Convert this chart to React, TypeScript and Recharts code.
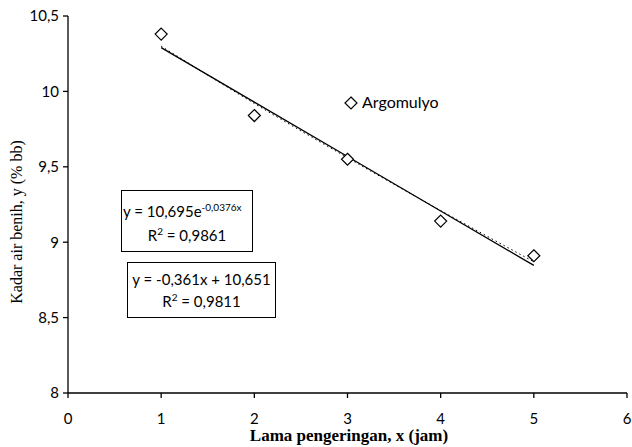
import React from "react";
import { ComposedChart, Scatter, Line, XAxis, YAxis } from "recharts";

const xValues = [1, 2, 3, 4, 5];
const observed = [10.38, 9.84, 9.55, 9.14, 8.91];
const linearTrend = [10.29, 9.929, 9.568, 9.207, 8.846];
const expTrend = [10.3, 9.92, 9.56, 9.21, 8.87];
const xTicks = [0, 1, 2, 3, 4, 5, 6];
const yTicks = [8, 8.5, 9, 9.5, 10, 10.5];

const pointData = xValues.map((x, i) => ({ x, y: observed[i] }));
const linData = xValues.map((x, i) => ({ x, y: linearTrend[i] }));
const expData = xValues.map((x, i) => ({ x, y: expTrend[i] }));

const SANS = "Lato, 'Open Sans', sans-serif";
const SERIF = "'Liberation Serif', 'DejaVu Serif', serif";

const Diamond = (props: any) => {
  const { cx, cy } = props;
  if (cx == null || cy == null) return null;
  const r = 6;
  return (
    <path
      d={`M${cx},${cy - r}L${cx + r},${cy}L${cx},${cy + r}L${cx - r},${cy}Z`}
      fill="#fff"
      stroke="#000"
      strokeWidth={1.2}
    />
  );
};

const fmt = (v: number) => String(v).replace(".", ",");
const supStyle: React.CSSProperties = { fontSize: 10, verticalAlign: "6px", lineHeight: 0 };

export default function App() {
  return (
    <div style={{ position: "absolute", left: 0, top: 0, width: 632, height: 447, background: "#fff" }}>
      <ComposedChart
        width={632}
        height={447}
        margin={{ top: 16, right: 5, bottom: 0, left: 8 }}
      >
        <XAxis
          type="number"
          dataKey="x"
          domain={[0, 6]}
          ticks={xTicks}
          interval={0}
          height={54}
          tickSize={5}
          tickMargin={15}
          axisLine={{ stroke: "#000", strokeWidth: 1.3 }}
          tickLine={{ stroke: "#000", strokeWidth: 1.3 }}
          tick={{ fill: "#000", fontSize: 15, fontFamily: SANS }}
          allowDataOverflow
        />
        <YAxis
          type="number"
          dataKey="y"
          domain={[8, 10.5]}
          ticks={yTicks}
          interval={0}
          width={60}
          tickSize={5}
          tickMargin={4}
          tickFormatter={fmt}
          axisLine={{ stroke: "#000", strokeWidth: 1.3 }}
          tickLine={{ stroke: "#000", strokeWidth: 1.3 }}
          tick={{ fill: "#000", fontSize: 15, fontFamily: SANS }}
          allowDataOverflow
        />
        <Line
          data={expData}
          dataKey="y"
          type="monotone"
          stroke="#000"
          strokeWidth={1}
          strokeDasharray="1.5 3"
          dot={false}
          isAnimationActive={false}
        />
        <Line
          data={linData}
          dataKey="y"
          type="linear"
          stroke="#000"
          strokeWidth={1.3}
          dot={false}
          isAnimationActive={false}
        />
        <Scatter data={pointData} dataKey="y" shape={<Diamond />} isAnimationActive={false} />
      </ComposedChart>

      {/* axis titles */}
      <div
        style={{
          position: "absolute",
          left: 0,
          width: 632,
          top: 427,
          textAlign: "center",
          paddingLeft: 66,
          boxSizing: "border-box",
          fontFamily: SERIF,
          fontWeight: "bold",
          fontSize: 17,
          lineHeight: "18px",
          color: "#000",
          whiteSpace: "nowrap",
        }}
      >
        Lama pengeringan, x (jam)
      </div>
      <div
        style={{
          position: "absolute",
          left: 17,
          top: 222,
          transform: "translate(-50%, -50%) rotate(-90deg)",
          fontFamily: SERIF,
          fontSize: 16,
          color: "#000",
          whiteSpace: "nowrap",
        }}
      >
        Kadar air benih, y (% bb)
      </div>

      {/* legend */}
      <svg style={{ position: "absolute", left: 343, top: 95 }} width={16} height={16}>
        <path d="M8,2L14,8L8,14L2,8Z" fill="#fff" stroke="#000" strokeWidth={1.2} />
      </svg>
      <div
        style={{
          position: "absolute",
          left: 362,
          top: 92,
          fontFamily: SANS,
          fontSize: 16,
          lineHeight: "20px",
          color: "#000",
        }}
      >
        Argomulyo
      </div>

      {/* equation boxes */}
      <div
        style={{
          position: "absolute",
          left: 121,
          top: 190,
          width: 132,
          height: 62,
          boxSizing: "border-box",
          border: "1px solid #000",
          fontFamily: SANS,
          fontSize: 15,
          color: "#000",
          textAlign: "center",
          background: "#fff",
        }}
      >
        <div style={{ textAlign: "left", paddingLeft: 1, marginTop: 11, lineHeight: "18px", whiteSpace: "nowrap" }}>
          y = 10,695e<sup style={supStyle}>-0,0376x</sup>
        </div>
        <div style={{ lineHeight: "18px", marginTop: 6 }}>
          R<sup style={supStyle}>2</sup> = 0,9861
        </div>
      </div>
      <div
        style={{
          position: "absolute",
          left: 127,
          top: 262,
          width: 149,
          height: 56,
          boxSizing: "border-box",
          border: "1px solid #000",
          fontFamily: SANS,
          fontSize: 15,
          color: "#000",
          textAlign: "center",
          background: "#fff",
        }}
      >
        <div style={{ lineHeight: "18px", marginTop: 7, whiteSpace: "nowrap" }}>y = -0,361x + 10,651</div>
        <div style={{ lineHeight: "18px", marginTop: 4 }}>
          R<sup style={supStyle}>2</sup> = 0,9811
        </div>
      </div>
    </div>
  );
}
